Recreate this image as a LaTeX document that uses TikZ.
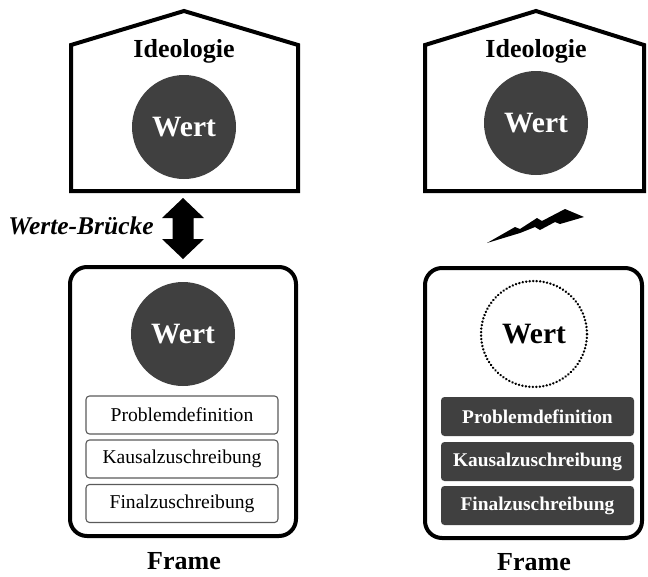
\documentclass[tikz,border=0pt]{standalone}
\usepackage{fontspec}
\setmainfont{Liberation Serif}
\definecolor{darkg}{HTML}{404040}
\definecolor{boxline}{HTML}{5A5A5A}
\begin{document}
\begin{tikzpicture}[x=1pt,y=-1pt,
  house/.style={line width=4pt, line join=miter},
  frm/.style={line width=4pt, rounded corners=17pt},
  wert/.style={circle, fill=darkg, minimum size=104pt, inner sep=0pt, text=white, font=\bfseries\fontsize{29.5}{31}\selectfont},
  wertdot/.style={circle, draw=black, line width=2.6pt, dash pattern=on 0.1pt off 3.4pt, line cap=round, minimum size=106pt, inner sep=0pt, font=\bfseries\fontsize{29.5}{31}\selectfont},
  title/.style={inner sep=1pt, font=\bfseries\fontsize{26}{28}\selectfont},
  lbox/.style={draw=boxline, line width=1.1pt, rounded corners=3.5pt, minimum width=192pt, minimum height=38pt, inner sep=0pt, font=\fontsize{19.6}{21}\selectfont},
  dbox/.style={fill=darkg, rounded corners=3.5pt, minimum width=193pt, minimum height=39pt, inner sep=0pt, text=white, font=\bfseries\fontsize{19.4}{21}\selectfont}
]
\useasboundingbox (0,0) rectangle (648,576);

% left side
\draw[house] (71,191) -- (71,45) -- (184,11) -- (298,45) -- (298,191) -- cycle;
\node[title] (ideoL) at (184,51) {Ideologie};
\node[wert] (wertL1) at (184,127) {Wert};

\fill (183,198) -- (204,218) -- (193.5,218) -- (193.5,239) -- (204,239) -- (183,259)
      -- (162,239) -- (172.5,239) -- (172.5,218) -- (162,218) -- cycle;
\node[font=\bfseries\itshape\fontsize{25.5}{27}\selectfont] (bruecke) at (81,226) {Werte-Brücke};

\draw[frm] (70,267) rectangle (296,536);
\node[wert] (wertL2) at (183,334) {Wert};
\node[lbox] (pL) at (182,415) {Problemdefinition};
\node[lbox] (kL) at (182,459) {Kausalzuschreibung};
\node[lbox] (fL) at (182,503.5) {Finalzuschreibung};
\node[title] (frameL) at (184,561) {Frame};

% right side
\draw[house] (425,191) -- (425,45) -- (536,11) -- (644,45) -- (644,191) -- cycle;
\node[title] (ideoR) at (536,51) {Ideologie};
\node[wert] (wertR1) at (536,123) {Wert};

\fill (487,243) -- (515,227) -- (520,229) -- (537,218) -- (542,221) -- (565,209)
      -- (584,217) -- (560,224) -- (555,222) -- (540,230) -- (535,227) -- (520,233) -- cycle;

\draw[frm] (425,268) rectangle (642,538);
\node[wertdot] (wertR2) at (534,334) {Wert};
\node[dbox] (pR) at (537.5,416.5) {Problemdefinition};
\node[dbox] (kR) at (537.5,461.5) {Kausalzuschreibung};
\node[dbox] (fR) at (537.5,505.5) {Finalzuschreibung};
\node[title] (frameR) at (534,562) {Frame};
\end{tikzpicture}
\end{document}
